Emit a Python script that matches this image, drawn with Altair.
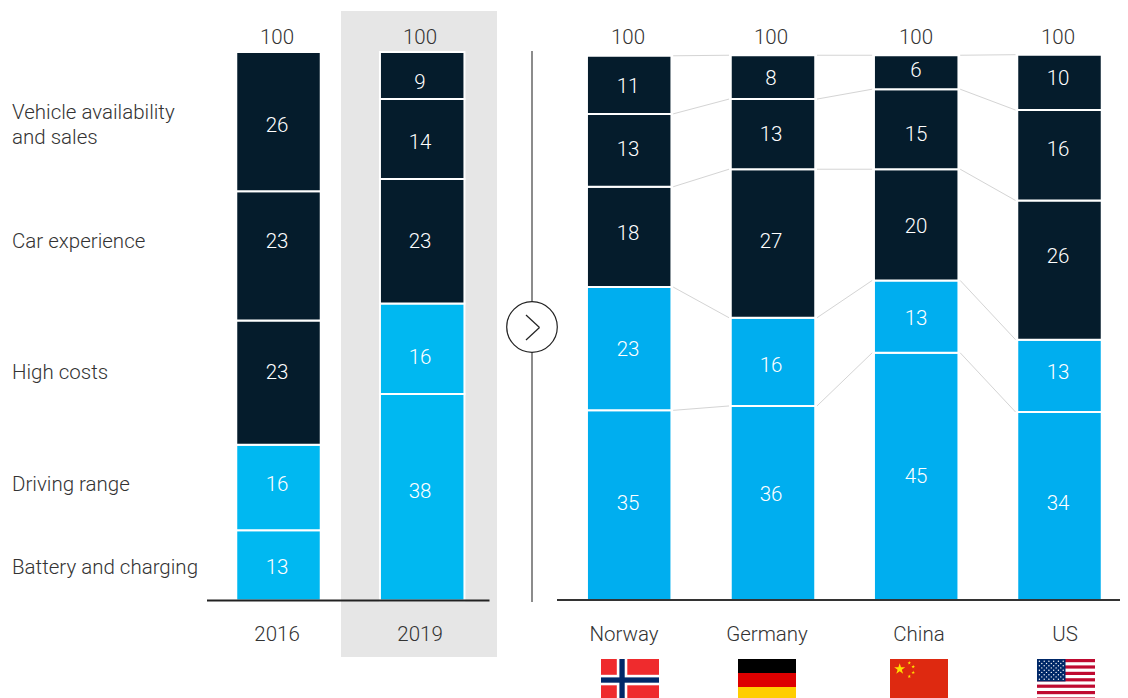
import base64
import math
import altair as alt
import pandas as pd

# ---------- data ----------
columns = ["2016", "2019", "Norway", "Germany", "China", "US"]
segments = ["Battery and charging", "Driving range", "High costs", "Car experience", "Vehicle availability and sales"]

# printed labels, bottom to top
labels_2016 = [13, 16, 23, 23, 26]
labels_2019 = [38, 16, 23, 14, 9]
labels_norway = [35, 23, 18, 13, 11]
labels_germany = [36, 16, 27, 13, 8]
labels_china = [45, 13, 20, 15, 6]
labels_us = [34, 13, 26, 16, 10]
all_labels = [labels_2016, labels_2019, labels_norway, labels_germany, labels_china, labels_us]

# drawn segment heights (share, as measured in the picture), bottom to top
drawn_2016 = [12.8, 15.6, 22.7, 23.6, 25.4]
drawn_2019 = [37.7, 16.5, 22.7, 14.6, 8.6]
drawn_norway = [34.7, 22.5, 18.3, 13.3, 10.6]
drawn_germany = [35.5, 16.1, 27.1, 12.8, 8.0]
drawn_china = [45.2, 13.2, 20.3, 14.6, 6.2]
drawn_us = [34.4, 13.2, 25.4, 16.5, 10.1]
all_drawn = [drawn_2016, drawn_2019, drawn_norway, drawn_germany, drawn_china, drawn_us]

totals = [100, 100, 100, 100, 100, 100]
row_labels = ["Vehicle availability", "and sales", "Car experience", "High costs", "Driving range", "Battery and charging"]
country_labels = ["Norway", "Germany", "China", "US"]
year_labels = ["2016", "2019"]

# ---------- layout (page pixels) ----------
M = 8
BAR_CENTERS = [278.5, 422.2, 629.2, 773, 916.2, 1059.5]
VALUE_X = [277, 420, 628, 771, 916, 1058]
VALUE_Y = [
    [567, 484, 372, 241, 125],
    [491, 357, 241, 142, 82],
    [503, 349, 233, 149, 86],
    [494, 365, 241, 134, 78],
    [476, 318, 226, 134, 70],
    [503, 372, 256, 149, 78],
]
ROW_Y = [112, 137, 241, 372, 484, 567]
COUNTRY_X = [624, 767, 919, 1065]
FLAG_X = [601, 738, 890, 1037]
FONT = "Roboto"
FW = 300
TEXT_SHIFT = 1
DARK, CYAN_L, CYAN_R = "#051c2c", "#00b8f1", "#00aeef"
TEXT = "#333333"

# ---------- tables ----------
bars, links, values = [], [], []
for c, (name, lab, dr) in enumerate(zip(columns, all_labels, all_drawn)):
    base = 0.0
    for s, (l, h) in enumerate(zip(lab, dr)):
        tone = "dark" if s >= 2 else ("left" if c < 2 else "right")
        bars.append(dict(slot=c, y0=base, y1=base + h, tone=tone))
        values.append(dict(px=VALUE_X[c] - M, py=VALUE_Y[c][s] - M + TEXT_SHIFT, t=str(l)))
        base += h
for c in range(2, 5):
    a, b = 0.0, 0.0
    for s in range(5):
        a += all_drawn[c][s]
        b += all_drawn[c + 1][s]
        links.append(dict(s0=c, s1=c + 1, y0=a, y1=b))
bars = pd.DataFrame(bars)
links = pd.DataFrame(links)
values = pd.DataFrame(values)
totals_df = pd.DataFrame(dict(px=[x - M for x in VALUE_X], py=[37 - M + TEXT_SHIFT] * 6, t=[str(t) for t in totals]))
rows_df = pd.DataFrame(dict(px=[12 - M] * 6, py=[y - M + TEXT_SHIFT for y in ROW_Y], t=row_labels))
cat_df = pd.DataFrame(dict(
    px=[x - M for x in VALUE_X[:2] + COUNTRY_X],
    py=[634 - M + TEXT_SHIFT] * 6,
    t=year_labels + country_labels,
))


# ---------- flags ----------
def uri(svg):
    return "data:image/svg+xml;base64," + base64.b64encode(svg.encode()).decode()


def star(cx, cy, r, fill):
    pts = []
    for i in range(10):
        rr = r if i % 2 == 0 else r * 0.382
        a = -math.pi / 2 + i * math.pi / 5
        pts.append(f"{cx + rr * math.cos(a):.2f},{cy + rr * math.sin(a):.2f}")
    return f'<polygon points="{" ".join(pts)}" fill="{fill}"/>'


head = '<svg xmlns="http://www.w3.org/2000/svg" width="58" height="42" viewBox="0 0 58 42">'
norway = head + ('<rect width="58" height="42" fill="#ef2b2d"/>'
                 '<rect x="15.8" width="10.5" height="42" fill="#fff"/><rect y="15.8" width="58" height="10.5" fill="#fff"/>'
                 '<rect x="18.4" width="5.3" height="42" fill="#002868"/><rect y="18.4" width="58" height="5.3" fill="#002868"/></svg>')
germany = head + ('<rect width="58" height="14" fill="#000"/><rect y="14" width="58" height="14" fill="#dd0000"/>'
                  '<rect y="28" width="58" height="14" fill="#ffce00"/></svg>')
china = head + '<rect width="58" height="42" fill="#de2910"/>' + star(9.7, 10, 5.8, "#ffde00") + "".join(
    star(x, y, 1.9, "#ffde00") for x, y in [(19.3, 3.9), (23.2, 7.7), (23.2, 13.5), (19.3, 17.4)]) + "</svg>"
us = head + '<rect width="58" height="42" fill="#fff"/>' + "".join(
    f'<rect y="{i * 3.2:.1f}" width="58" height="3.2" fill="#bf0a30"/>' for i in range(0, 13, 2))
us += '<rect width="28.5" height="22.4" fill="#002868"/>'
for r in range(9):
    for k in range(6 if r % 2 == 0 else 5):
        us += f'<circle cx="{2.4 + (k * 4.76) + (0 if r % 2 == 0 else 2.38):.1f}" cy="{2.2 + r * 2.25:.1f}" r="0.7" fill="#fff"/>'
us += "</svg>"
flags_df = pd.DataFrame(dict(px=[x - M for x in FLAG_X], py=[659 - M] * 4, u=[uri(norway), uri(germany), uri(china), uri(us)]))

# ---------- scales ----------
x_scale = alt.Scale(domain=list(range(6)), range=[x - M for x in BAR_CENTERS], nice=False, zero=False, padding=0)
y_scale = alt.Scale(domain=[0, 100], range=[600.5 - M, 52.5 - M], nice=False, zero=False, padding=0)
X = lambda f: alt.X(f, type="quantitative", scale=x_scale, axis=None)
Y = lambda f: alt.Y(f, type="quantitative", scale=y_scale, axis=None)

# ---------- layers ----------
panel = alt.Chart().mark_rect(color="#e6e6e6").encode(
    x=alt.value(341 - M), x2=alt.value(497 - M), y=alt.value(11 - M), y2=alt.value(657 - M))

bar_layer = alt.Chart(bars).mark_bar(size=84.5, stroke="white", strokeWidth=2, orient="vertical").encode(
    x=X("slot"), y=Y("y0"), y2="y1",
    color=alt.Color("tone:N", legend=None,
                    scale=alt.Scale(domain=["dark", "left", "right"], range=[DARK, CYAN_L, CYAN_R])))

link_layer = alt.Chart(links).mark_rule(color="#d4d4d4", strokeWidth=1, xOffset=44, x2Offset=-44).encode(
    x=X("s0"), x2="s1", y=Y("y0"), y2="y1")


def rule(x0, x1, y0, y1, color, w):
    return alt.Chart().mark_rule(color=color, strokeWidth=w).encode(
        x=alt.value(x0 - M), x2=alt.value(x1 - M), y=alt.value(y0 - M), y2=alt.value(y1 - M))


base_left = rule(207, 489.5, 600.5, 600.5, "#222222", 2)
base_right = rule(557, 1128, 600, 600, "#333333", 2)
divider = rule(532, 532, 51, 602, "#666666", 1.5)
circle = alt.Chart().mark_point(shape="circle", size=2560, filled=True, fill="white", opacity=1,
                                stroke="#222222", strokeWidth=1.2).encode(
    x=alt.value(532 - M), y=alt.value(327 - M))
chev1 = rule(526, 539.5, 315, 327.5, "#222222", 1.2)
chev2 = rule(539.5, 526, 327.5, 340, "#222222", 1.2)


def text_layer(df, color, align="center"):
    return alt.Chart(df).mark_text(font=FONT, fontWeight=FW, fontSize=20.5, align=align, baseline="middle", color=color).encode(
        x=alt.X("px:Q", scale=None, axis=None), y=alt.Y("py:Q", scale=None, axis=None), text="t:N")


flag_layer = alt.Chart(flags_df).mark_image(width=58, height=42, aspect=False, align="left", baseline="top").encode(
    x=alt.X("px:Q", scale=None, axis=None), y=alt.Y("py:Q", scale=None, axis=None), url="u:N")

chart = alt.layer(
    panel, bar_layer, link_layer, base_left, base_right, divider, circle, chev1, chev2,
    text_layer(values, "white"), text_layer(totals_df, TEXT), text_layer(rows_df, TEXT, "left"),
    text_layer(cat_df, TEXT), flag_layer,
).properties(width=1112, height=690, padding=0, autosize="none").configure_view(strokeWidth=0)

chart.save("out.html", embed_options={"renderer": "svg", "actions": False})
